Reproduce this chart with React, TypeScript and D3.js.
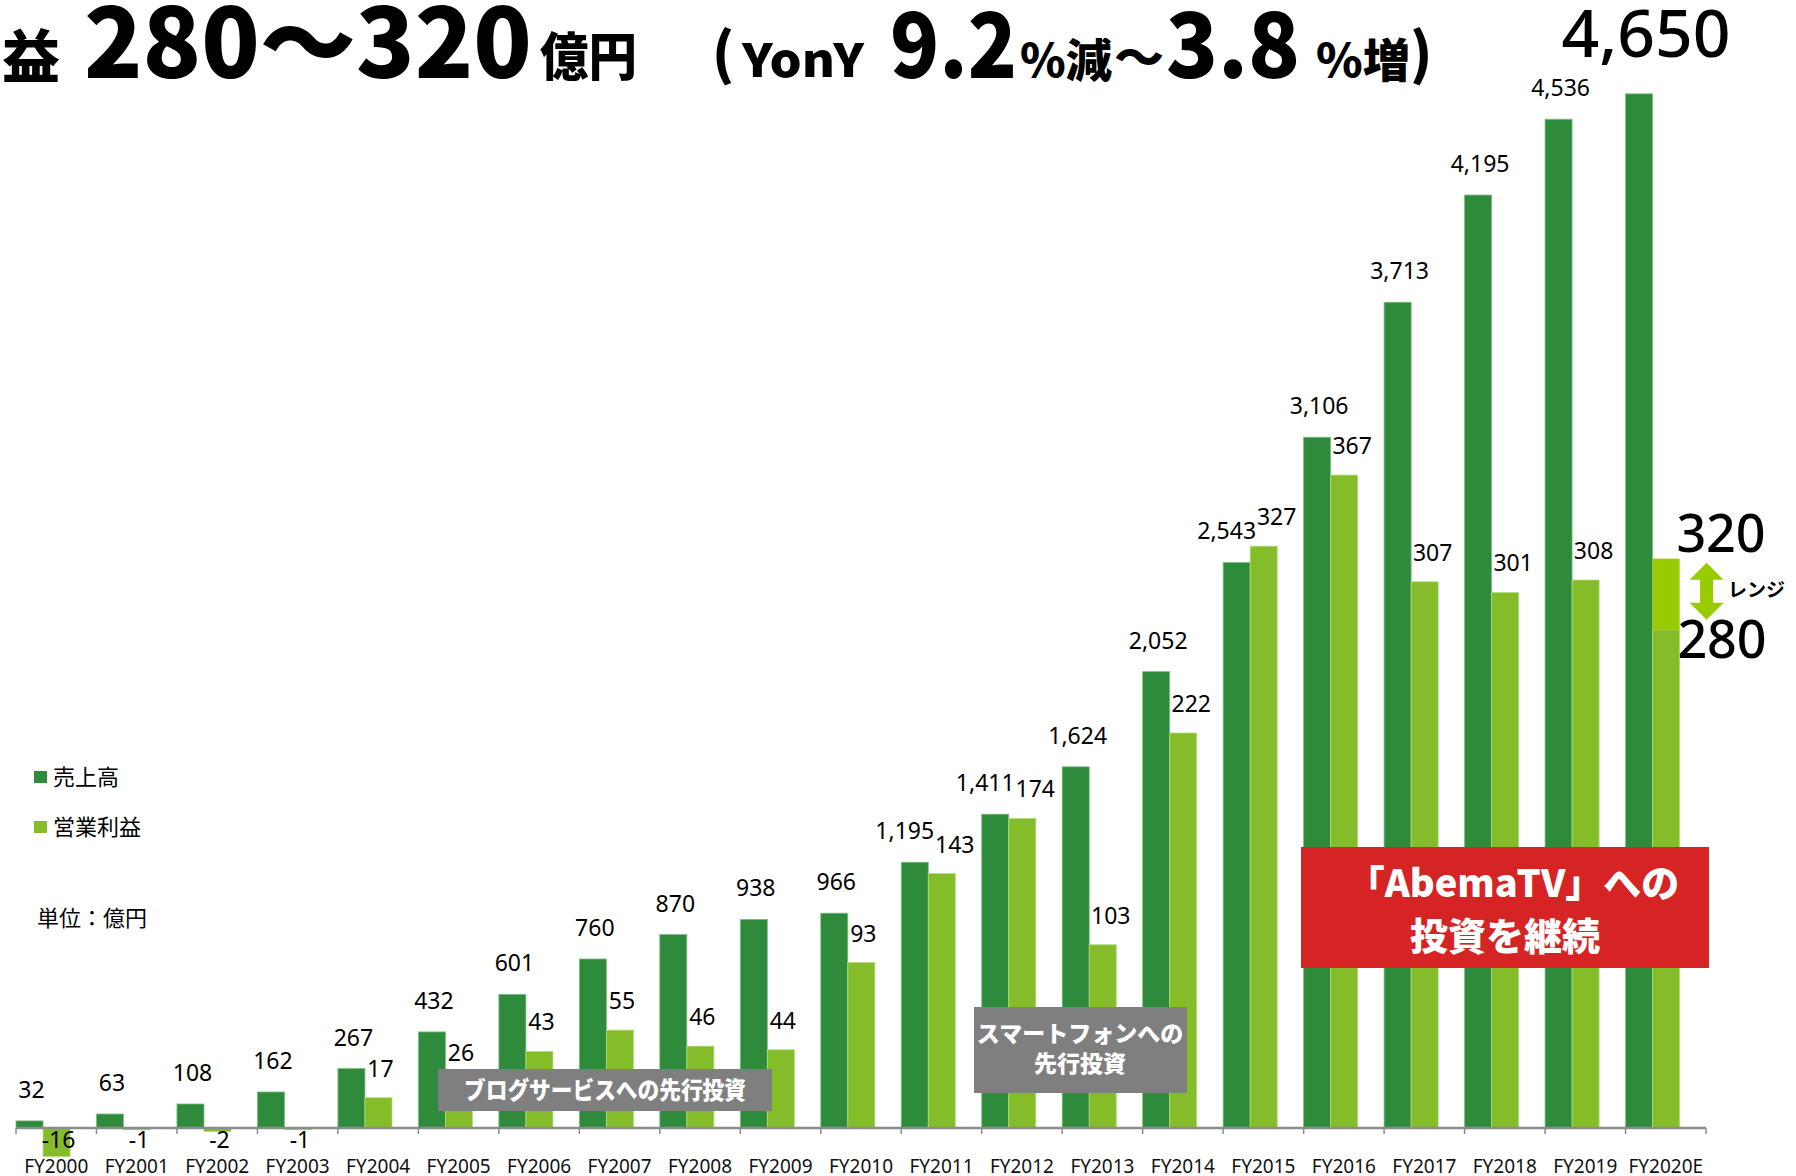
import * as d3 from 'd3'

const categories = [
  'FY2000', 'FY2001', 'FY2002', 'FY2003', 'FY2004', 'FY2005', 'FY2006',
  'FY2007', 'FY2008', 'FY2009', 'FY2010', 'FY2011', 'FY2012', 'FY2013',
  'FY2014', 'FY2015', 'FY2016', 'FY2017', 'FY2018', 'FY2019', 'FY2020E',
]
// 売上高
const revenue = [
  32, 63, 108, 162, 267, 432, 601, 760, 870, 938, 966, 1195, 1411, 1624,
  2052, 2543, 3106, 3713, 4195, 4536, 4650,
]
// 営業利益 (FY2020E = low end of the forecast range)
const operatingProfit = [
  -16, -1, -2, -1, 17, 26, 43, 55, 46, 44, 93, 143, 174, 103, 222, 327, 367,
  307, 301, 308, 280,
]
const forecastRange = [280, 320]

const W = 1796
const H = 1176
const DARK = '#2e8b3c'
const LIGHT = '#84bd29'
const LIME = '#99cc00'
const JP = '"Noto Sans CJK JP", "Noto Sans", sans-serif'
const NUM = '"Noto Sans", "Open Sans", sans-serif'

const fmt = d3.format(',')

export default function App() {
  const x = d3.scaleBand<string>().domain(categories).range([16, 1706]).padding(0)
  const yRev = d3.scaleLinear().domain([0, 5000]).range([1128, 16])
  const yOp = d3.scaleLinear().domain([0, 625]).range([1128, 16])
  const barW = x.bandwidth() * 0.336
  const last = categories.length - 1
  const lastX = (x(categories[last]) ?? 0) + barW

  const arrowTop = yOp(forecastRange[1]) + 4
  const arrowBot = yOp(forecastRange[0]) - 10
  const ax = lastX + barW + 27

  // label placement: push apart the two labels of a year when they would collide
  const labels = categories.slice(0, last).map((c, i) => {
    const x0 = x(c) ?? 0
    const v = operatingProfit[i]
    const revY = yRev(revenue[i]) - 23
    const opY = v < 0 ? yOp(0) + 20 : yOp(v) - 21
    const clash = v >= 0 && Math.abs(revY - opY) < 22
    return {
      c,
      rev: revenue[i],
      op: v,
      revX: x0 + barW / 2 + (clash ? -10 : 2),
      revY,
      opX: x0 + barW * 1.5 + (clash ? 13 : v >= 100 ? 8 : 2),
      opY,
    }
  })

  return (
    <svg
      width={W}
      height={H}
      style={{ position: 'absolute', left: 0, top: 0, display: 'block', background: '#fff' }}
    >
      {/* title */}
      <g fill="#000" fontFamily={JP} fontWeight={900}>
        <text x={60} y={78} fontSize={58} textAnchor="end">営業利益</text>
        <text x={84} y={78} fontSize={96} textLength={448} lengthAdjust="spacingAndGlyphs">280〜320</text>
        <text x={540} y={76} fontSize={52} textLength={97} lengthAdjust="spacingAndGlyphs">億円</text>
        <text x={712} y={74} fontSize={56}>(</text>
        <text x={742} y={77} fontSize={46} textLength={122} lengthAdjust="spacingAndGlyphs">YonY</text>
        <text x={890} y={78} fontSize={90} textLength={127} lengthAdjust="spacingAndGlyphs">9.2</text>
        <text x={1020} y={77} fontSize={46} textLength={92} lengthAdjust="spacingAndGlyphs">%減</text>
        <text x={1114} y={74} fontSize={46} textLength={50} lengthAdjust="spacingAndGlyphs">〜</text>
        <text x={1166} y={78} fontSize={90} textLength={134} lengthAdjust="spacingAndGlyphs">3.8</text>
        <text x={1316} y={77} fontSize={46} textLength={94} lengthAdjust="spacingAndGlyphs">%増</text>
        <text x={1410} y={74} fontSize={56}>)</text>
      </g>

      {/* bars */}
      {categories.map((c, i) => {
        const x0 = x(c) ?? 0
        const op = operatingProfit[i]
        return (
          <g key={c}>
            <rect
              x={x0}
              y={yRev(revenue[i])}
              width={barW}
              height={yRev(0) - yRev(revenue[i])}
              fill={DARK}
              stroke="#7fbf86"
              strokeWidth={0.8}
            />
            <rect
              x={x0 + barW}
              y={Math.min(yOp(op), yOp(0))}
              width={barW}
              height={Math.abs(yOp(0) - yOp(op))}
              fill={LIGHT}
              stroke="#b5dc7a"
              strokeWidth={0.8}
            />
          </g>
        )
      })}
      <rect
        x={lastX}
        y={yOp(forecastRange[1])}
        width={barW}
        height={yOp(forecastRange[0]) - yOp(forecastRange[1])}
        fill={LIME}
      />

      {/* axis */}
      <line x1={16} x2={1706} y1={1128} y2={1128} stroke="#8c8c8c" strokeWidth={2.5} />
      {[...categories.map((c) => x(c) ?? 0), 1706].map((t, i) => (
        <line key={i} x1={t} x2={t} y1={1128} y2={1134} stroke="#8c8c8c" strokeWidth={1.5} />
      ))}
      {categories.map((c) => (
        <text
          key={c}
          x={(x(c) ?? 0) + x.bandwidth() / 2}
          y={1173}
          fontSize={19}
          fontFamily={NUM}
          textAnchor="middle"
          fill="#111"
        >
          {c}
        </text>
      ))}

      {/* value labels */}
      {labels.map((l) => (
        <g key={l.c} fontSize={23} fontFamily={NUM} textAnchor="middle" fill="#000">
          <text x={l.revX} y={l.revY}>{fmt(l.rev)}</text>
          <text x={l.opX} y={l.opY}>{l.op < 0 ? `-${Math.abs(l.op)}` : fmt(l.op)}</text>
        </g>
      ))}

      {/* forecast labels */}
      <text x={1646} y={57} fontSize={66} fontFamily={NUM} fontWeight={500} textAnchor="middle" fill="#000">
        {fmt(revenue[last])}
      </text>
      <text x={1721} y={552} fontSize={52} fontFamily={NUM} fontWeight={500} textAnchor="middle" fill="#000">
        {forecastRange[1]}
      </text>
      <text x={1722} y={658} fontSize={52} fontFamily={NUM} fontWeight={500} textAnchor="middle" fill="#000">
        {forecastRange[0]}
      </text>
      <path
        d={`M${ax},${arrowTop} L${ax + 17},${arrowTop + 17} L${ax + 6.5},${arrowTop + 17} L${ax + 6.5},${arrowBot - 17} L${ax + 17},${arrowBot - 17} L${ax},${arrowBot} L${ax - 17},${arrowBot - 17} L${ax - 6.5},${arrowBot - 17} L${ax - 6.5},${arrowTop + 17} L${ax - 17},${arrowTop + 17} Z`}
        fill={LIME}
      />
      <text x={1728} y={597} fontSize={19} fontFamily={JP} fontWeight={700} fill="#000">レンジ</text>

      {/* legend */}
      <rect x={34} y={771} width={13} height={12} fill={DARK} />
      <text x={53} y={785} fontSize={22} fontFamily={JP} fill="#000">売上高</text>
      <rect x={34} y={821} width={13} height={12} fill={LIGHT} />
      <text x={53} y={835} fontSize={22} fontFamily={JP} fill="#000">営業利益</text>
      <text x={37} y={926} fontSize={22} fontFamily={JP} fill="#000">単位：億円</text>

      {/* annotations */}
      <rect x={438} y={1069} width={334} height={42} fill="#7f7f7f" />
      <text x={605} y={1099} fontSize={24} fontFamily={JP} fontWeight={900} fill="#fff" textAnchor="middle" textLength={282} lengthAdjust="spacingAndGlyphs">
        ブログサービスへの先行投資
      </text>
      <rect x={974} y={1007} width={213} height={86} fill="#7f7f7f" />
      <text x={1080} y={1042} fontSize={23} fontFamily={JP} fontWeight={900} fill="#fff" textAnchor="middle">
        スマートフォンへの
      </text>
      <text x={1080} y={1072} fontSize={23} fontFamily={JP} fontWeight={900} fill="#fff" textAnchor="middle">
        先行投資
      </text>
      <rect x={1301} y={847} width={408} height={121} fill="#d52423" />
      <text x={1513} y={897} fontSize={38} fontFamily={JP} fontWeight={900} fill="#fff" textAnchor="middle">
        「AbemaTV」への
      </text>
      <text x={1505} y={950} fontSize={38} fontFamily={JP} fontWeight={900} fill="#fff" textAnchor="middle">
        投資を継続
      </text>
    </svg>
  )
}
